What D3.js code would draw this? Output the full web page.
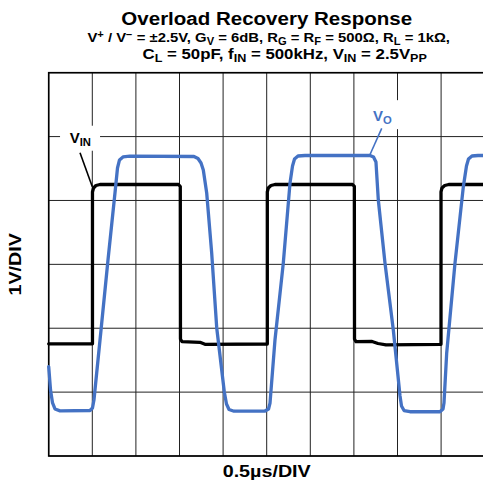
<!DOCTYPE html>
<meta charset="utf-8">
<head>
<style type='text/css'>
  body {
    margin: 0;
    font-family: 'Liberation Sans', Arial, sans-serif;
    background: #fff;
  }
  .grid line {
    stroke: #222;
    stroke-width: 1;
  }
  .trace {
    fill: none;
    stroke-width: 3.3;
    stroke-linejoin: round;
    stroke-linecap: round;
  }
  text {
    font-weight: bold;
  }
</style>
</head>
<body>
<div id="chart"></div>
<script src="https://cdn.jsdelivr.net/npm/d3@7"></script>
<script>
// scope settings: 10 divisions of 0.5us, 6 divisions of 1V
var xTicks = [0, 0.5, 1, 1.5, 2, 2.5, 3, 3.5, 4, 4.5, 5];
var yTicks = [-3, -2, -1, 0, 1, 2, 3];

// input trace (time in us, volts)
var vinTime = [0, 0.502, 0.502, 0.514, 0.542, 0.588, 1.489, 1.509, 1.511, 1.529, 1.735, 1.792,
  2.507, 2.507, 2.518, 2.549, 2.595, 3.484, 3.505, 3.507, 3.524, 3.708, 3.776, 3.868,
  4.499, 4.499, 4.510, 4.541, 4.587, 5];
var vinVolts = [-1.244, -1.244, 1.133, 1.195, 1.234, 1.25, 1.25, 1.219, -1.169, -1.211, -1.22, -1.252,
  -1.247, 1.133, 1.195, 1.234, 1.25, 1.25, 1.219, -1.169, -1.211, -1.208, -1.239, -1.262,
  -1.252, 1.133, 1.195, 1.234, 1.25, 1.25];

// output trace
var voTime = [0, 0.021, 0.044, 0.072, 0.130, 0.474, 0.502, 0.519, 0.600, 0.680, 0.760, 0.789, 0.812, 0.852, 0.932,
  1.666, 1.712, 1.747, 1.773, 1.812, 1.869, 1.927, 2.014, 2.039, 2.068, 2.125,
  2.480, 2.521, 2.538, 2.595, 2.690, 2.767, 2.796, 2.819, 2.859, 2.939,
  3.685, 3.725, 3.753, 3.780, 3.857, 3.952, 4.029, 4.046, 4.075, 4.143,
  4.487, 4.522, 4.533, 4.564, 4.659, 4.755, 4.791, 4.814, 4.854, 4.923, 5];
var voVolts = [-1.602, -1.967, -2.17, -2.264, -2.293, -2.288, -2.249, -2.124, -1.028, 0.068, 1.117, 1.508, 1.634, 1.681, 1.693,
  1.688, 1.657, 1.587, 1.477, 1.117, 0.178, -0.996, -1.998, -2.186, -2.272, -2.299,
  -2.296, -2.264, -2.171, -1.184, 0.016, 1.269, 1.54, 1.649, 1.696, 1.704,
  1.704, 1.68, 1.602, 1.007, 0.016, -1.028, -2.061, -2.217, -2.288, -2.307,
  -2.307, -2.264, -2.171, -1.392, 0.016, 1.216, 1.54, 1.649, 1.696, 1.704, 1.704];

var width = 483,
    height = 485,
    margin = {top: 72.7, right: -1.7, bottom: 29, left: 48.7};

var svg = d3.select("#chart").append("svg")
    .attr("width", width)
    .attr("height", height);

var x = d3.scaleLinear()
    .domain([0, 5])
    .range([margin.left, width - margin.right]);

var y = d3.scaleLinear()
    .domain([-3, 3])
    .range([height - margin.bottom, margin.top]);

// grid
var grid = svg.append("g").attr("class", "grid");
grid.selectAll("line.v")
    .data(xTicks)
  .enter().append("line")
    .attr("class", "v")
    .attr("x1", function(d) { return x(d); })
    .attr("x2", function(d) { return x(d); })
    .attr("y1", y(-3))
    .attr("y2", y(3));
grid.selectAll("line.h")
    .data(yTicks)
  .enter().append("line")
    .attr("class", "h")
    .attr("x1", x(0))
    .attr("x2", x(5))
    .attr("y1", function(d) { return y(d); })
    .attr("y2", function(d) { return y(d); });

// frame
svg.append("rect")
    .attr("x", x(0))
    .attr("y", y(3))
    .attr("width", x(5) - x(0))
    .attr("height", y(-3) - y(3))
    .attr("fill", "none")
    .attr("stroke", "#000")
    .attr("stroke-width", 1.6);

var line = d3.line()
    .x(function(d) { return x(d[0]); })
    .y(function(d) { return y(d[1]); });

// annotation boxes (white patches over the grid)
svg.append("rect").attr("x", x(0.13)).attr("y", y(2.17)).attr("width", 40).attr("height", 25).attr("fill", "#fff");
svg.append("rect").attr("x", x(3.66)).attr("y", y(2.57)).attr("width", 32).attr("height", 29).attr("fill", "#fff");

svg.append("path")
    .datum(d3.zip(vinTime, vinVolts))
    .attr("class", "trace")
    .attr("stroke", "#000")
    .attr("d", line);

svg.append("path")
    .datum(d3.zip(voTime, voVolts))
    .attr("class", "trace")
    .attr("stroke", "#4472c4")
    .attr("d", line);

// labels with leader lines
svg.append("line")
    .attr("x1", x(0.359)).attr("y1", y(1.748))
    .attr("x2", x(0.5)).attr("y2", y(1.215))
    .attr("stroke", "#000").attr("stroke-width", 1.6);
svg.append("line")
    .attr("x1", x(3.819)).attr("y1", y(2.129))
    .attr("x2", x(3.685)).attr("y2", y(1.72))
    .attr("stroke", "#4472c4").attr("stroke-width", 1.6);

function rich(sel, parts, size) {
  parts.forEach(function(p) {
    var t = sel.append("tspan").text(p[0]);
    if (p[1] == "sub") t.attr("font-size", size * 0.75).attr("baseline-shift", "-25%");
    if (p[1] == "sup") t.attr("font-size", size * 0.75).attr("baseline-shift", "38%");
  });
}

// text placed at (px, py), stretched a bit wider like the original
function label(px, py, size, sx) {
  return svg.append("text")
      .attr("transform", "translate(" + px + "," + py + ") scale(" + sx + ",1)")
      .attr("text-anchor", "middle")
      .attr("font-size", size);
}

var vin = svg.append("text")
    .attr("x", x(0.24)).attr("y", y(1.9))
    .attr("font-size", 15);
rich(vin, [["V", ""], ["IN", "sub"]], 15);

var vo = svg.append("text")
    .attr("x", x(3.72)).attr("y", y(2.24))
    .attr("font-size", 15)
    .attr("fill", "#4472c4");
rich(vo, [["V", ""], ["O", "sub"]], 15);

// titles
var cx = (x(0) + x(5)) / 2;
label(cx, 25, 19, 1.08).text("Overload Recovery Response");

var sub1 = label(cx + 2, 42, 13.5, 1.1);
rich(sub1, [["V", ""], ["+", "sup"], [" / V", ""], ["\u2212", "sup"], [" = \u00b12.5V, G", ""], ["V", "sub"],
  [" = 6dB, R", ""], ["G", "sub"], [" = R", ""], ["F", "sub"], [" = 500\u03a9, R", ""], ["L", "sub"], [" = 1k\u03a9,", ""]], 13.5);

var sub2 = label(cx + 18, 59, 14, 1.2);
rich(sub2, [["C", ""], ["L", "sub"], [" = 50pF, f", ""], ["IN", "sub"], [" = 500kHz, V", ""], ["IN", "sub"],
  [" = 2.5V", ""], ["PP", "sub"]], 14);

// axis titles
label(cx, 477, 17, 1.16).text("0.5\u00b5s/DIV");

svg.append("text")
    .attr("transform", "translate(21," + y(0) + ") rotate(-90) scale(1.16,1)")
    .attr("text-anchor", "middle")
    .attr("font-size", 17)
    .text("1V/DIV");
</script>
</body>
